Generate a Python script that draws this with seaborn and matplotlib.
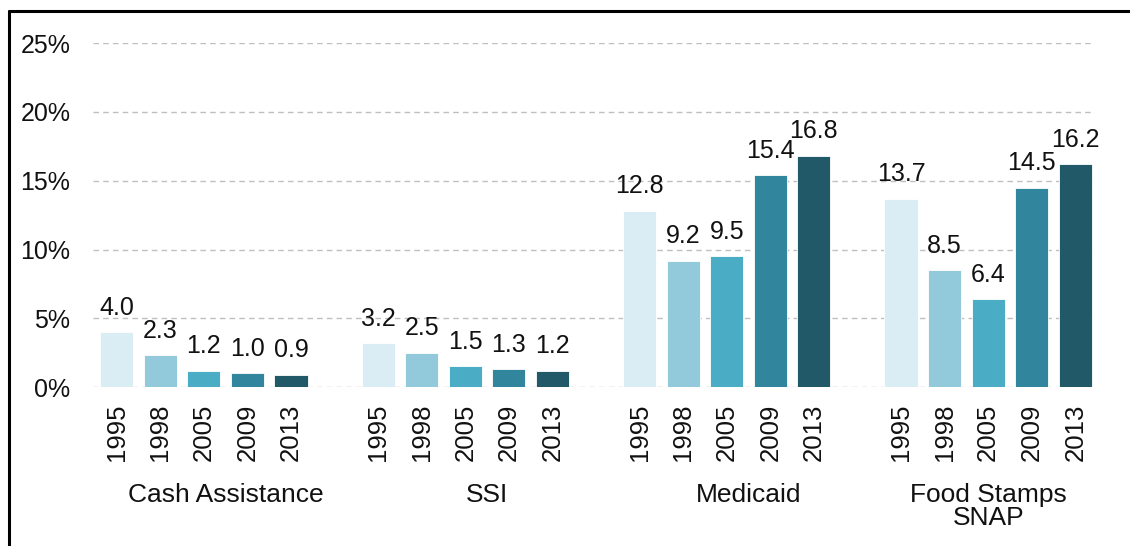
import pandas as pd
import matplotlib.pyplot as plt
import seaborn as sns
from matplotlib.lines import Line2D
from matplotlib.ticker import FuncFormatter

programs = ["Cash Assistance", "SSI", "Medicaid", "Food Stamps\nSNAP"]
years = ["1995", "1998", "2005", "2009", "2013"]
cash = [4.0, 2.3, 1.2, 1.0, 0.9]
ssi = [3.2, 2.5, 1.5, 1.3, 1.2]
medicaid = [12.8, 9.2, 9.5, 15.4, 16.8]
food = [13.7, 8.5, 6.4, 14.5, 16.2]
colors = ["#DAEDF4", "#92CADB", "#4BACC6", "#31859C", "#215968"]

rows = []
for i, vals in enumerate([cash, ssi, medicaid, food]):
    for j, (yr, v) in enumerate(zip(years, vals)):
        # one empty slot between program groups
        rows.append({"pos": i * 6 + j, "year": yr, "value": v, "program": programs[i]})
df = pd.DataFrame(rows)

sns.set_style("white")
plt.rcParams["font.family"] = ["Liberation Sans", "DejaVu Sans"]

fig = plt.figure(figsize=(11.3, 5.46), dpi=100)
ax = fig.add_axes([0.082, 0.291, 0.887, 0.630])

sns.barplot(data=df, x="pos", y="value", hue="year", hue_order=years,
            palette=colors, saturation=1, native_scale=True, dodge=False,
            width=0.76, edgecolor="white", linewidth=0.6, legend=False, ax=ax)

for cont in ax.containers:
    ax.bar_label(cont, fmt="%.1f", padding=9, fontsize=18, color="#111111")

ax.set_ylim(0, 25)
ax.set_xlim(-0.55, 22.45)
ax.set_yticks(range(0, 30, 5))
ax.yaxis.set_major_formatter(FuncFormatter(lambda v, p: f"{v:.0f}%"))
ax.yaxis.grid(True, linestyle=(0, (4, 3)), color="#BFBFBF", linewidth=1)
ax.set_axisbelow(True)
ax.set_xticks(df["pos"])
ax.set_xticklabels(df["year"], rotation=90)
ax.tick_params(axis="x", length=0, pad=12, labelsize=18.5, labelcolor="#111111")
ax.tick_params(axis="y", length=0, pad=16, labelsize=18, labelcolor="#111111")
ax.set_xlabel("")
ax.set_ylabel("")
sns.despine(ax=ax, left=True, bottom=True)

label_x = [2.5, 8.5, 14.5, 20]
for x, name in zip(label_x, programs):
    ax.text(x, -0.28, name, transform=ax.get_xaxis_transform(), ha="center",
            va="top", fontsize=19, linespacing=0.95, color="#111111")

# frame lines at the top and left of the picture
fig.add_artist(Line2D([0.008, 1.0], [0.980, 0.980], color="black", linewidth=2.2))
fig.add_artist(Line2D([0.008, 0.008], [0.0, 0.980], color="black", linewidth=2.2))

plt.savefig("out.png", dpi=100)
